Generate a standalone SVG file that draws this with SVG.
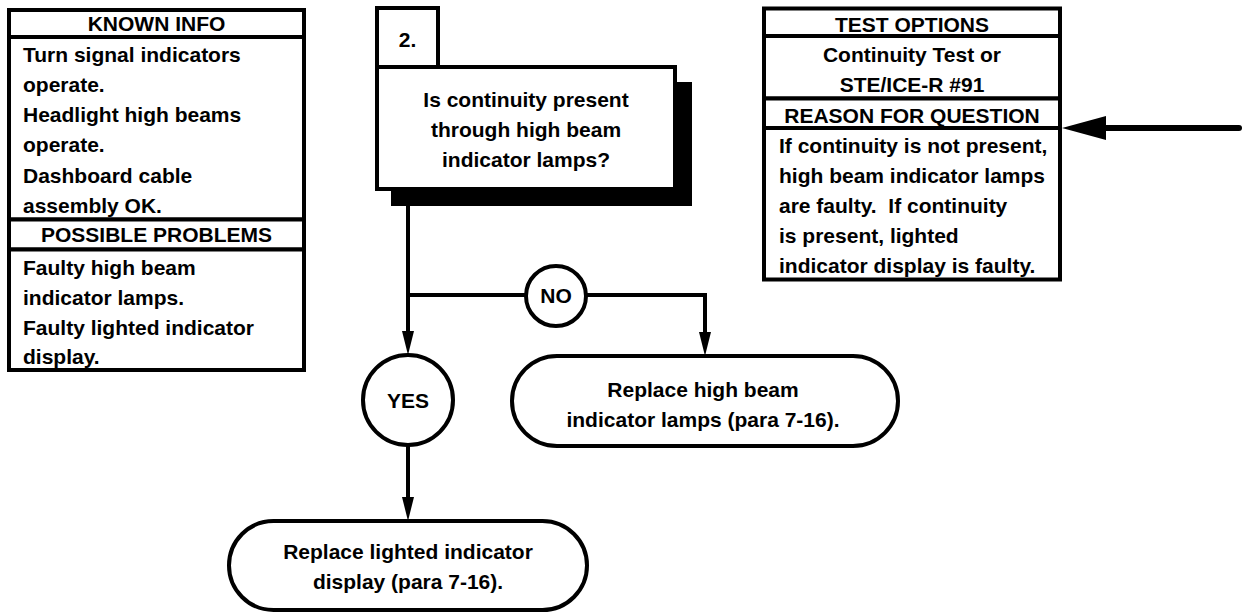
<svg xmlns="http://www.w3.org/2000/svg" width="1247" height="614" viewBox="0 0 1247 614">
<style>
  .box{fill:#fff;stroke:#000;stroke-width:4}
  .ln{fill:none;stroke:#000;stroke-width:4}
  text{font-family:"Liberation Sans",Arial,sans-serif;font-weight:bold;font-size:21px;fill:#000}
  .c{text-anchor:middle}
  .pre{white-space:pre}
</style>
<rect width="1247" height="614" fill="#fff"/>

<g id="known-info">
  <rect class="box" x="9" y="10" width="295" height="27"/>
  <text class="c" x="156.5" y="31">KNOWN INFO</text>
  <rect class="box" x="9" y="37" width="295" height="182.5"/>
  <text x="23" y="62">Turn signal indicators</text>
  <text x="23" y="92">operate.</text>
  <text x="23" y="122">Headlight high beams</text>
  <text x="23" y="152">operate.</text>
  <text x="23" y="183">Dashboard cable</text>
  <text x="23" y="213">assembly OK.</text>
</g>
<g id="possible-problems">
  <rect class="box" x="9" y="219.5" width="295" height="30"/>
  <text class="c" x="156.5" y="242">POSSIBLE PROBLEMS</text>
  <rect class="box" x="9" y="249.5" width="295" height="120.5"/>
  <text x="23" y="275">Faulty high beam</text>
  <text x="23" y="305">indicator lamps.</text>
  <text x="23" y="335">Faulty lighted indicator</text>
  <text x="23" y="364">display.</text>
</g>

<g id="question">
  <rect x="391" y="82" width="301" height="124" fill="#000"/>
  <rect class="box" x="377" y="8" width="61" height="59"/>
  <text class="c" x="407.5" y="47">2.</text>
  <rect class="box" x="377" y="67" width="298" height="122"/>
  <text class="c" x="526" y="107">Is continuity present</text>
  <text class="c" x="526" y="137">through high beam</text>
  <text class="c" x="526" y="167">indicator lamps?</text>
</g>

<g id="test-options">
  <rect class="box" x="764" y="8.5" width="296" height="27.5"/>
  <text class="c" x="912" y="32">TEST OPTIONS</text>
  <rect class="box" x="764" y="36" width="296" height="62.5"/>
  <text class="c" x="912" y="62">Continuity Test or</text>
  <text class="c" x="912" y="92">STE/ICE-R #91</text>
</g>
<g id="reason">
  <rect class="box" x="764" y="98.5" width="296" height="29.5"/>
  <text class="c" x="912" y="123">REASON FOR QUESTION</text>
  <rect class="box" x="764" y="128" width="296" height="151.5"/>
  <text x="779" y="153">If continuity is not present,</text>
  <text x="779" y="183">high beam indicator lamps</text>
  <text class="pre" x="779" y="213">are faulty.  If continuity</text>
  <text x="779" y="243">is present, lighted</text>
  <text x="779" y="273">indicator display is faulty.</text>
</g>

<g id="connectors">
  <path class="ln" d="M408,206 L408,332"/>
  <path class="ln" d="M408,295 L526,295"/>
  <path class="ln" d="M586,295 L705,295 L705,333"/>
  <path class="ln" d="M408,445 L408,498"/>
  <path d="M408,355 L402,331 L414,331 Z" fill="#000"/>
  <path d="M705,356 L699,332 L711,332 Z" fill="#000"/>
  <path d="M408,521 L402,497 L414,497 Z" fill="#000"/>
  <path d="M1104,128 L1239,128" fill="none" stroke="#000" stroke-width="6" stroke-linecap="round"/>
  <path d="M1062,128 L1106,116 L1106,140 Z" fill="#000"/>
</g>

<g id="no">
  <circle class="box" cx="556" cy="296" r="30"/>
  <text class="c" x="556" y="303">NO</text>
</g>
<g id="yes">
  <circle class="box" cx="408" cy="400" r="45"/>
  <text class="c" x="408" y="408">YES</text>
</g>
<g id="replace-lamps">
  <rect class="box" x="512" y="356" width="386" height="90" rx="45"/>
  <text class="c" x="703" y="397">Replace high beam</text>
  <text class="c" x="703" y="427">indicator lamps (para 7-16).</text>
</g>
<g id="replace-display">
  <rect class="box" x="229" y="521" width="358" height="89" rx="44.5"/>
  <text class="c" x="408" y="559">Replace lighted indicator</text>
  <text class="c" x="408" y="589">display (para 7-16).</text>
</g>
</svg>
